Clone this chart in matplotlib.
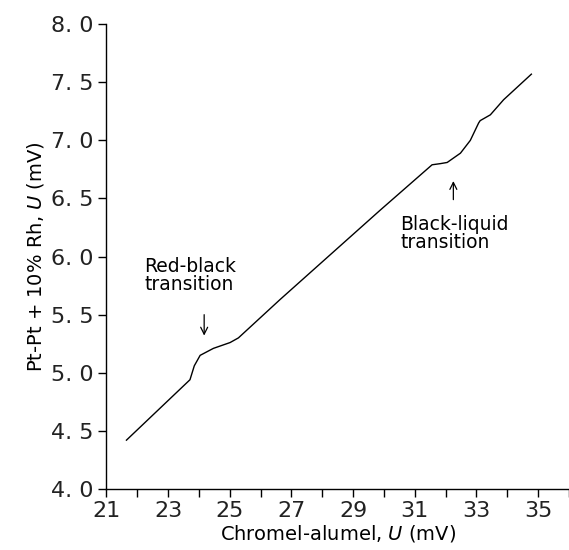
import numpy as np
import matplotlib
matplotlib.use("Agg")
import matplotlib.pyplot as plt
from matplotlib.ticker import MultipleLocator, FuncFormatter

# Chromel-alumel emf (mV) vs Pt-Pt+10%Rh emf (mV)
chromel_alumel = [21.65, 23.71, 23.85, 24.04, 24.47, 25.01, 25.28, 26.63,
                  29.88, 31.56, 31.83, 32.05, 32.48, 32.80, 33.07, 33.12,
                  33.45, 33.88, 34.78]
pt_rh = [4.42, 4.94, 5.06, 5.15, 5.21, 5.26, 5.30, 5.63,
         6.40, 6.79, 6.80, 6.81, 6.89, 7.00, 7.15, 7.17,
         7.22, 7.35, 7.57]

x_ticks = [21, 23, 25, 27, 29, 31, 33, 35]
y_ticks = [4.0, 4.5, 5.0, 5.5, 6.0, 6.5, 7.0, 7.5, 8.0]

plt.rcParams['font.family'] = ['DejaVu Sans']
plt.rcParams['mathtext.fontset'] = 'dejavusans'

fig = plt.figure(figsize=(5.69, 5.5), dpi=100)
ax = fig.add_axes([0.187, 0.111, 0.813, 0.845])

ax.plot(chromel_alumel, pt_rh, color='black', lw=1.0)

ax.set_xlim(21, 36)
ax.set_ylim(4.0, 8.0)
ax.set_xticks(x_ticks)
ax.xaxis.set_minor_locator(MultipleLocator(1))
ax.set_yticks(y_ticks)
ax.yaxis.set_major_formatter(FuncFormatter(lambda v, p: f"{v:.1f}".replace('.', '. ')))

for side in ['top', 'right']:
    ax.spines[side].set_visible(False)
for side in ['left', 'bottom']:
    ax.spines[side].set_linewidth(1.0)

ax.tick_params(axis='both', which='both', direction='out', length=6, width=1.0,
               labelsize=16, pad=3, labelcolor='#222222')

ax.set_xlabel(r"Chromel-alumel, $U$ (mV)", fontsize=14, labelpad=1)
ax.set_ylabel(r"Pt-Pt + 10% Rh, $U$ (mV)", fontsize=14, labelpad=4)

ax.text(22.22, 5.84, "Red-black\ntransition", fontsize=13.5,
        ha='left', va='center', linespacing=0.95)
ax.annotate("", xy=(24.17, 5.32), xytext=(24.17, 5.50),
            arrowprops=dict(arrowstyle='->,head_length=0.5,head_width=0.25',
                            color='black', lw=0.9, shrinkA=0, shrinkB=0))

ax.text(30.53, 6.20, "Black-liquid\ntransition", fontsize=13.5,
        ha='left', va='center', linespacing=0.95)
ax.annotate("", xy=(32.25, 6.65), xytext=(32.25, 6.49),
            arrowprops=dict(arrowstyle='->,head_length=0.5,head_width=0.25',
                            color='black', lw=0.9, shrinkA=0, shrinkB=0))

fig.savefig("out.png", dpi=100)
